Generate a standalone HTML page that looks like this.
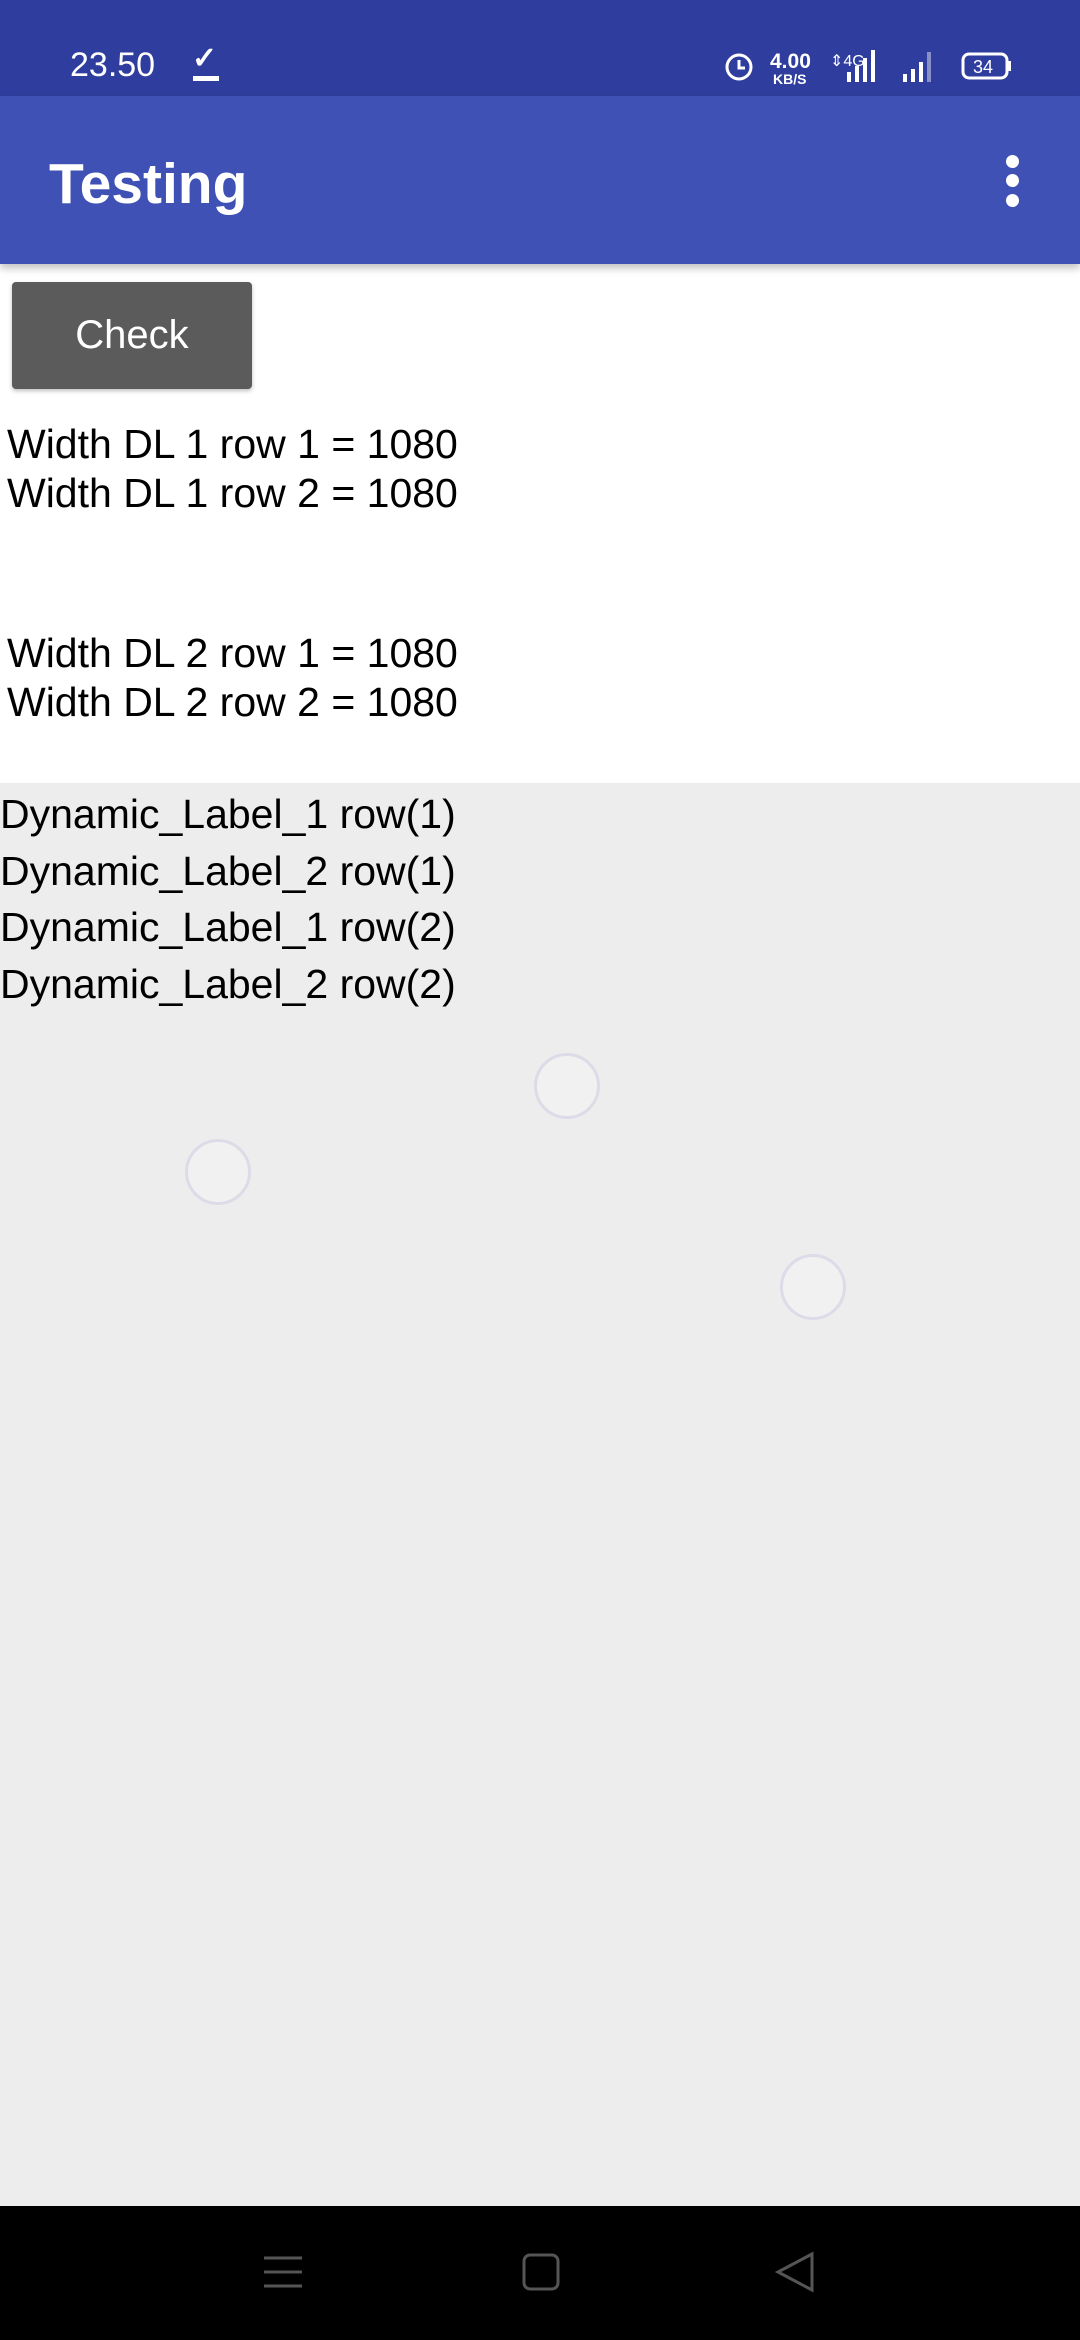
<!DOCTYPE html>
<html><head><meta charset="utf-8"><style>
*{margin:0;padding:0;box-sizing:border-box}
body{width:1080px;height:2340px;position:relative;overflow:hidden;background:#fff;font-family:"Liberation Sans",sans-serif}
.abs{position:absolute}
.status{left:0;top:0;width:1080px;height:96px;background:#2f3e9e}
.bar{left:0;top:96px;width:1080px;height:168px;background:#3f51b5;box-shadow:0 4px 8px rgba(0,0,0,.25)}
.t{color:#000;font-size:41px;white-space:nowrap;line-height:1}
.circ{width:66px;height:66px;border-radius:50%;border:3px solid #dcdce8;background:#f1f1f1}
.dot{left:1006px;width:13px;height:13px;border-radius:50%;background:#fff}
</style></head><body>
<div class="abs status"></div>
<div class="abs" style="left:70px;top:48px;color:#fff;font-size:34px;line-height:1">23.50</div>
<div class="abs" style="left:192px;top:44px;color:#fff;font-size:30px;line-height:1;font-weight:bold">✓</div>
<div class="abs" style="left:193px;top:76px;width:26px;height:5px;background:#fff"></div>
<svg class="abs" style="left:720px;top:44px" width="300" height="46">
<circle cx="19" cy="23" r="12" fill="none" stroke="#fff" stroke-width="3"/>
<path d="M19 16v8h6" stroke="#fff" stroke-width="3" fill="none"/>
<text x="50" y="24" fill="#fff" font-size="21" font-weight="bold" font-family="Liberation Sans">4.00</text>
<text x="53" y="40" fill="#fff" font-size="14" font-weight="bold" font-family="Liberation Sans">KB/S</text>
<text x="110" y="22" fill="#fff" font-size="16" font-family="Liberation Sans">⇕4G</text>
<rect x="127" y="28" width="4" height="10" fill="#fff"/><rect x="135" y="22" width="4" height="16" fill="#fff"/><rect x="143" y="14" width="4" height="24" fill="#fff"/><rect x="151" y="6" width="4" height="32" fill="#fff"/>
<rect x="183" y="30" width="4" height="8" fill="#fff"/><rect x="191" y="25" width="4" height="13" fill="#fff"/><rect x="199" y="18" width="4" height="20" fill="#fff"/><rect x="207" y="8" width="4" height="30" fill="#8890c8"/>
<rect x="243" y="10" width="44" height="24" rx="6" fill="none" stroke="#fff" stroke-width="3"/>
<rect x="288" y="17" width="3" height="10" fill="#fff"/>
<text x="253" y="29" fill="#fff" font-size="18" font-family="Liberation Sans">34</text>
</svg>
<div class="abs bar"></div>
<div class="abs" style="left:49px;top:156px;color:#fff;font-size:57px;font-weight:bold;line-height:1">Testing</div>
<div class="abs dot" style="top:155px"></div>
<div class="abs dot" style="top:174px"></div>
<div class="abs dot" style="top:194px"></div>
<div class="abs" style="left:12px;top:282px;width:240px;height:107px;background:#5b5b5b;border-radius:4px;box-shadow:0 2px 4px rgba(0,0,0,.25);color:#fff;font-size:40px;text-align:center;line-height:107px">Check</div>
<div class="abs t" style="left:7px;top:424px">Width DL 1 row 1 = 1080</div>
<div class="abs t" style="left:7px;top:473px">Width DL 1 row 2 = 1080</div>
<div class="abs t" style="left:7px;top:633px">Width DL 2 row 1 = 1080</div>
<div class="abs t" style="left:7px;top:682px">Width DL 2 row 2 = 1080</div>
<div class="abs" style="left:0;top:783px;width:1080px;height:1423px;background:#ededed"></div>
<div class="abs t" style="left:0;top:794px">Dynamic_Label_1 row(1)</div>
<div class="abs t" style="left:0;top:851px">Dynamic_Label_2 row(1)</div>
<div class="abs t" style="left:0;top:907px">Dynamic_Label_1 row(2)</div>
<div class="abs t" style="left:0;top:964px">Dynamic_Label_2 row(2)</div>
<div class="abs circ" style="left:534px;top:1053px"></div>
<div class="abs circ" style="left:185px;top:1139px"></div>
<div class="abs circ" style="left:780px;top:1254px"></div>
<div class="abs" style="left:0;top:2206px;width:1080px;height:134px;background:#000"></div>
<svg class="abs" style="left:0;top:2206px" width="1080" height="134">
<g stroke="#555" stroke-width="3" fill="none">
<path d="M264 52h38M264 66h38M264 80h38"/>
<rect x="524" y="49" width="34" height="34" rx="6"/>
<path d="M812 48L778 66L812 84Z"/>
</g></svg>
</body></html>
